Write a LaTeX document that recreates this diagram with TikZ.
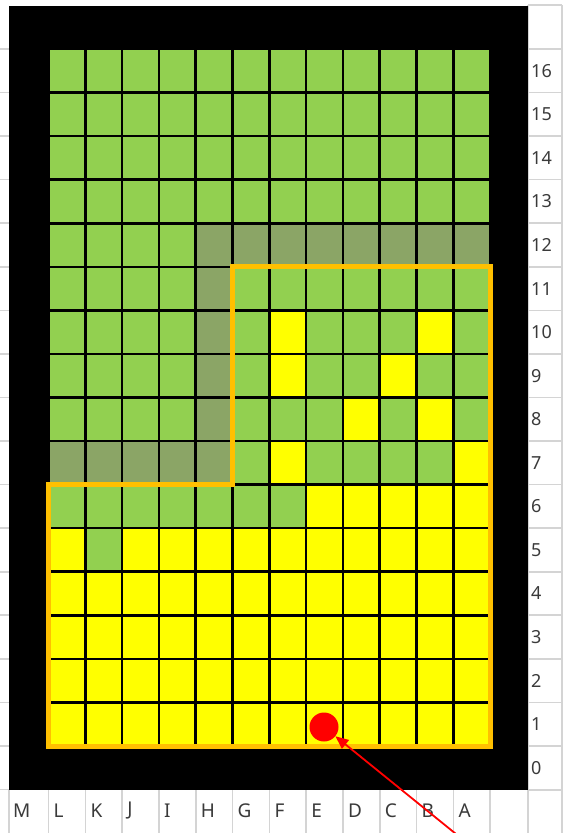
\documentclass[tikz,border=0pt]{standalone}
\usepackage{fontspec}
\setmainfont{Noto Sans}
\usetikzlibrary{arrows.meta}
\definecolor{cg}{HTML}{92D050}
\definecolor{cy}{HTML}{FFFF00}
\definecolor{cs}{HTML}{8BA566}
\definecolor{corange}{HTML}{FFC000}
\definecolor{cgrid}{HTML}{D4D4D4}
\definecolor{ctext}{HTML}{3A3A3A}
\tikzset{
  sheetline/.style={draw=cgrid, line width=1.6pt},
  rowlabel/.style={anchor=west, inner sep=0pt, text=ctext, font=\fontsize{18}{18}\selectfont},
  collabel/.style={anchor=west, inner sep=0pt, text=ctext, font=\fontsize{19}{19}\selectfont},
  region/.style={draw=corange, line width=5pt, line join=miter},
  pointer/.style={draw=red, line width=1.8pt, -{Triangle[length=13pt,width=11pt]}},
}
\begin{document}
\begin{tikzpicture}[x=1pt,y=-1pt]
\useasboundingbox (0,0) rectangle (563,833);
\fill[white] (0,0) rectangle (563,833);
% spreadsheet grid lines (light gray)
\foreach \k in {0,...,17} {
  \draw[sheetline] (0,{49+\k*43.56}) -- (9,{49+\k*43.56});
}
\foreach \k in {0,...,17} {
  \draw[sheetline] (528,{49+(\k-1)*43.56}) -- (562,{49+(\k-1)*43.56});
}
\draw[sheetline] (528,5) -- (562,5);
\draw[sheetline] (528,790) -- (562,790);
\draw[sheetline] (562,5) -- (562,833);
\draw[sheetline] (528,5) -- (528,833);
\draw[sheetline] (9,790) -- (9,833);
\foreach \k in {0,...,12} {
  \draw[sheetline] ({48.5+\k*36.8},790) -- ({48.5+\k*36.8},833);
}
% black background
\fill[black] (9,6) rectangle (528,790);
% cells
\foreach \r/\cols in {
  16/{cg,cg,cg,cg,cg,cg,cg,cg,cg,cg,cg,cg},
  15/{cg,cg,cg,cg,cg,cg,cg,cg,cg,cg,cg,cg},
  14/{cg,cg,cg,cg,cg,cg,cg,cg,cg,cg,cg,cg},
  13/{cg,cg,cg,cg,cg,cg,cg,cg,cg,cg,cg,cg},
  12/{cg,cg,cg,cg,cs,cs,cs,cs,cs,cs,cs,cs},
  11/{cg,cg,cg,cg,cs,cg,cg,cg,cg,cg,cg,cg},
  10/{cg,cg,cg,cg,cs,cg,cy,cg,cg,cg,cy,cg},
  9/{cg,cg,cg,cg,cs,cg,cy,cg,cg,cy,cg,cg},
  8/{cg,cg,cg,cg,cs,cg,cg,cg,cy,cg,cy,cg},
  7/{cs,cs,cs,cs,cs,cg,cy,cg,cg,cg,cg,cy},
  6/{cg,cg,cg,cg,cg,cg,cg,cy,cy,cy,cy,cy},
  5/{cy,cg,cy,cy,cy,cy,cy,cy,cy,cy,cy,cy},
  4/{cy,cy,cy,cy,cy,cy,cy,cy,cy,cy,cy,cy},
  3/{cy,cy,cy,cy,cy,cy,cy,cy,cy,cy,cy,cy},
  2/{cy,cy,cy,cy,cy,cy,cy,cy,cy,cy,cy,cy},
  1/{cy,cy,cy,cy,cy,cy,cy,cy,cy,cy,cy,cy}} {
  \foreach \k [count=\c] in \cols {
    \fill[\k] ({48.5+(\c-1)*36.8+1.3},{49+(16-\r)*43.56+1.3})
      rectangle ({48.5+\c*36.8-1.3},{49+(17-\r)*43.56-1.3});
  }
}
% orange region outline
\draw[region] (232.5,266.8) -- (490.1,266.8) -- (490.1,746) -- (48.5,746)
  -- (48.5,484.6) -- (232.5,484.6) -- cycle;
% row labels
\foreach \n in {0,...,16} {
  \node[rowlabel] (row\n) at (531,{49+(16-\n)*43.56+21.8}) {\n};
}
% column labels
\node[collabel] (colM) at (13,811) {M};
\foreach \t [count=\i] in {L,K,J,I,H,G,F,E,D,C,B,A} {
  \node[collabel] (col\t) at ({48.5+(\i-1)*36.8+5},811) {\t};
}
% red marker and pointer
\node[circle, fill=red, minimum size=29pt, inner sep=0pt] (dot) at (324,727) {};
\coordinate (start) at (456,834);
\draw[pointer] (start) -- (dot);
\end{tikzpicture}
\end{document}
